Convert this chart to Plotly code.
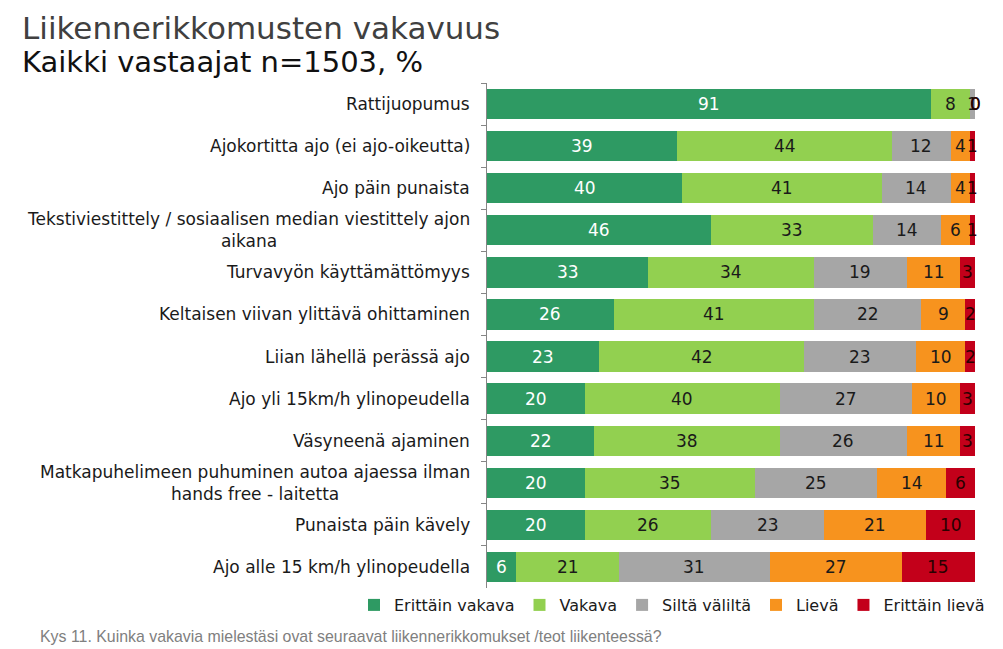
import plotly.graph_objects as go

categories = [
    "Rattijuopumus",
    "Ajokortitta ajo (ei ajo-oikeutta)",
    "Ajo päin punaista",
    "Tekstiviestittely / sosiaalisen median viestittely ajon<br>aikana",
    "Turvavyön käyttämättömyys",
    "Keltaisen viivan ylittävä ohittaminen",
    "Liian lähellä perässä ajo",
    "Ajo yli 15km/h ylinopeudella",
    "Väsyneenä ajaminen",
    "Matkapuhelimeen puhuminen autoa ajaessa ilman<br>hands free - laitetta",
    "Punaista päin kävely",
    "Ajo alle 15 km/h ylinopeudella",
]

series_names = ["Erittäin vakava", "Vakava", "Siltä väliltä", "Lievä", "Erittäin lievä"]
erittain_vakava = [91, 39, 40, 46, 33, 26, 23, 20, 22, 20, 20, 6]
vakava = [8, 44, 41, 33, 34, 41, 42, 40, 38, 35, 26, 21]
silta_valilta = [1, 12, 14, 14, 19, 22, 23, 27, 26, 25, 23, 31]
lieva = [0, 4, 4, 6, 11, 9, 10, 10, 11, 14, 21, 27]
erittain_lieva = [0, 1, 1, 1, 3, 2, 2, 3, 3, 6, 10, 15]

series_values = [erittain_vakava, vakava, silta_valilta, lieva, erittain_lieva]
colors = ["#2E9A63", "#92D050", "#A6A6A6", "#F7931E", "#C3001A"]
text_colors = ["#FFFFFF", "#1A1A1A", "#1A1A1A", "#1A1A1A", "#2A0000"]

title_text = "Liikennerikkomusten vakavuus"
subtitle_text = "Kaikki vastaajat n=1503, %"
footer_text = "Kys 11. Kuinka vakavia mielestäsi ovat seuraavat liikennerikkomukset /teot liikenteessä?"

FONT = "DejaVu Sans"

# page body has an 8px margin; work in figure pixel coordinates
W, H = 995, 641
ML, MR, MT, MB = 479, 28, 75, 61
pw = W - ML - MR
ph = H - MT - MB


def px_x(px):
    return (px - ML) / pw


def px_y(py):
    return (H - MB - py) / ph


fig = go.Figure()
for name, vals, col in zip(series_names, series_values, colors):
    fig.add_trace(go.Bar(
        y=categories, x=vals, name=name, orientation="h",
        marker=dict(color=col, line=dict(width=0)),
        hoverinfo="x+name",
    ))

annotations = []
# value labels
cum = [0] * len(categories)
for vals, tc in zip(series_values, text_colors):
    for i, v in enumerate(vals):
        annotations.append(dict(
            x=cum[i] + v / 2, y=categories[i], xref="x", yref="y",
            text=str(v), showarrow=False,
            font=dict(family=FONT, size=17, color=tc),
            xanchor="center", yanchor="middle",
        ))
        cum[i] += v

# category labels (centered multi-line, right anchored)
for c in categories:
    annotations.append(dict(
        x=0, y=c, xref="paper", yref="y", xshift=-15,
        text=c, showarrow=False, align="center",
        xanchor="right", yanchor="middle",
        font=dict(family=FONT, size=17, color="#1A1A1A"),
    ))

annotations.append(dict(
    x=px_x(12), y=px_y(0), xref="paper", yref="paper",
    text=title_text, showarrow=False, xanchor="left", yanchor="top",
    font=dict(family=FONT, size=31, color="#404040")))
annotations.append(dict(
    x=px_x(12), y=px_y(54), xref="paper", yref="paper",
    text=subtitle_text, showarrow=False, xanchor="left", yanchor="middle",
    font=dict(family=FONT, size=29, color="#111111")))
annotations.append(dict(
    x=px_x(30), y=px_y(628), xref="paper", yref="paper",
    text=footer_text, showarrow=False, xanchor="left", yanchor="middle",
    font=dict(family="Liberation Sans", size=15.9, color="#808080")))

fig.update_layout(
    width=W, height=H,
    margin=dict(l=ML, r=MR, t=MT, b=MB, autoexpand=False),
    paper_bgcolor="white", plot_bgcolor="white",
    barmode="stack", bargap=0.28,
    showlegend=True,
    legend=dict(
        orientation="h", xref="paper", yref="paper",
        x=px_x(346), xanchor="left", y=px_y(597), yanchor="middle",
        font=dict(family=FONT, size=16, color="#1A1A1A"),
        traceorder="normal", itemwidth=30,
    ),
    xaxis=dict(range=[0, 100], showgrid=False, zeroline=False,
               showticklabels=False, showline=False, fixedrange=True),
    yaxis=dict(autorange="reversed", showticklabels=False, showline=True,
               linecolor="#868686", linewidth=1, ticks="outside",
               tickson="boundaries", ticklen=5, tickcolor="#868686",
               showgrid=False),
    annotations=annotations,
)

fig.write_html("out.html")
